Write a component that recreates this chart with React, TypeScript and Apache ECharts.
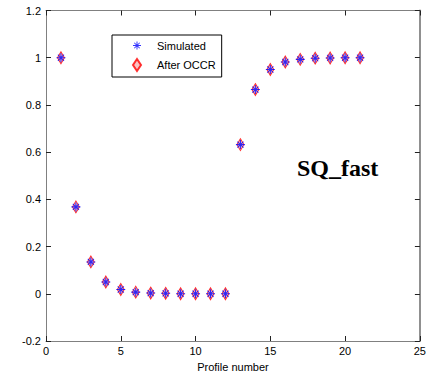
import React, { useEffect, useRef } from "react";
import * as echarts from "echarts";

const profiles = [1, 2, 3, 4, 5, 6, 7, 8, 9, 10, 11, 12, 13, 14, 15, 16, 17, 18, 19, 20, 21];
const simulated = [1.0, 0.368, 0.135, 0.05, 0.018, 0.007, 0.003, 0.002, 0.0, 0.0, 0.0, 0.0, 0.632, 0.865, 0.95, 0.982, 0.993, 0.998, 0.999, 1.0, 1.0];
const afterOCCR = [1.0, 0.368, 0.135, 0.05, 0.018, 0.007, 0.003, 0.002, 0.0, 0.0, 0.0, 0.0, 0.632, 0.865, 0.95, 0.982, 0.993, 0.998, 0.999, 1.0, 1.0];
const seriesNames = ["Simulated", "After OCCR"];
const annotation = "SQ_fast";
const xAxisName = "Profile number";

const STAR =
  "path://M4.4 0H5.6V10H4.4Z M0 4.4H10V5.6H0Z M1.2 2L2 1.2L8.8 8L8 8.8Z M8 1.2L8.8 2L2 8.8L1.2 8Z";

const FONT = "'Liberation Sans', Arial, sans-serif";
const FS = 11;

export default function App() {
  const ref = useRef<HTMLDivElement>(null);
  useEffect(() => {
    if (!ref.current) return;
    const chart = echarts.init(ref.current, undefined, { renderer: "svg" });
    const axisLine = { show: true, onZero: false, lineStyle: { color: "#808080", width: 1 } };
    const axisTick = { show: true, inside: true, length: 5, lineStyle: { color: "#222", width: 1 } };
    chart.setOption({
      animation: false,
      backgroundColor: "#fff",
      grid: { left: 46, right: 6, top: 10.5, bottom: 35, containLabel: false },
      xAxis: [
        {
          type: "value",
          min: 0,
          max: 25,
          interval: 5,
          name: xAxisName,
          nameLocation: "middle",
          nameGap: 20,
          nameTextStyle: { fontFamily: FONT, fontSize: FS, color: "#000" },
          axisLine,
          axisTick,
          axisLabel: { fontFamily: FONT, fontSize: FS, color: "#000", margin: 4, showMaxLabel: true },
          splitLine: { show: false },
        },
        {
          type: "value",
          position: "top",
          min: 0,
          max: 25,
          interval: 5,
          axisLine,
          axisTick,
          axisLabel: { show: false },
          splitLine: { show: false },
        },
      ],
      yAxis: [
        {
          type: "value",
          min: -0.2,
          max: 1.2,
          interval: 0.2,
          axisLine,
          axisTick,
          axisLabel: {
            fontFamily: FONT,
            fontSize: FS,
            color: "#000",
            margin: 5,
            formatter: (v: number) => String(Math.round(v * 10) / 10),
          },
          splitLine: { show: false },
        },
        {
          type: "value",
          position: "right",
          min: -0.2,
          max: 1.2,
          interval: 0.2,
          axisLine: { show: true, onZero: false, lineStyle: { color: "#909090", width: 2 } },
          axisTick,
          axisLabel: { show: false },
          splitLine: { show: false },
        },
      ],
      legend: {
        data: [
          { name: seriesNames[0], icon: STAR },
          { name: seriesNames[1], icon: "diamond" },
        ],
        orient: "vertical",
        left: 112,
        top: 35,
        backgroundColor: "#fff",
        borderColor: "#000",
        borderWidth: 1,
        borderRadius: 0,
        padding: [5, 6, 5, 20],
        itemWidth: 8,
        itemHeight: 12,
        itemGap: 7,
        textStyle: { fontFamily: FONT, fontSize: FS, color: "#000", padding: [0, 0, 0, 11] },
      },
      series: [
        {
          name: seriesNames[1],
          type: "scatter",
          data: profiles.map((p, i) => [p, afterOCCR[i]]),
          symbol: "diamond",
          symbolSize: [7, 12],
          itemStyle: { color: "#f9b4b4", borderColor: "#ff0000", borderWidth: 1 },
          z: 2,
        },
        {
          name: seriesNames[0],
          type: "scatter",
          data: profiles.map((p, i) => [p, simulated[i]]),
          symbol: STAR,
          symbolSize: 9,
          itemStyle: { color: "#0000ff" },
          z: 3,
        },
      ],
      graphic: [
        {
          type: "text",
          left: 297,
          top: 156,
          style: {
            text: annotation,
            fontFamily: "'Liberation Serif', 'Times New Roman', serif",
            fontWeight: "bold",
            fontSize: 24,
            fill: "#000",
          },
        },
      ],
    });
    return () => chart.dispose();
  }, []);
  return (
    <div
      ref={ref}
      style={{ position: "fixed", left: 0, top: 0, width: 429, height: 377 }}
    />
  );
}
